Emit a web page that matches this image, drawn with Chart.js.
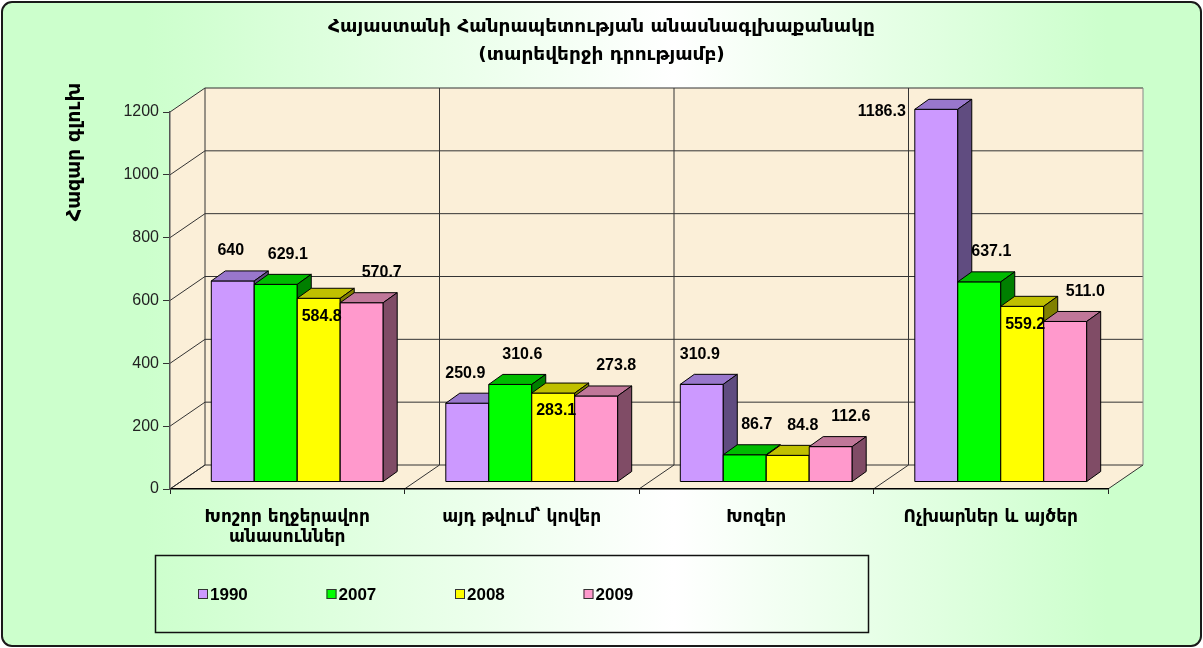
<!DOCTYPE html>
<html>
<head>
<meta charset="utf-8">
<script src="https://cdn.jsdelivr.net/npm/chart.js@4.4.1/dist/chart.umd.min.js"></script>
<style>
html, body { margin: 0; padding: 0; background: #fff; }
#wrap { width: 1203px; height: 648px; position: relative; }
</style>
</head>
<body>
<div id="wrap"><canvas id="herdChart"></canvas></div>
<script>
const titleLines = ['Հայաստանի Հանրապետության անասնագլխաքանակը', '(տարեվերջի դրությամբ)'];
const yTitle = 'Հազար գլուխ';
const categories = [['Խոշոր եղջերավոր', 'անասուններ'], 'այդ թվում՝ կովեր', 'Խոզեր', 'Ոչխարներ և այծեր'];
const years = ['1990', '2007', '2008', '2009'];
// values as they are printed on the bars
const v1990 = ['640', '250.9', '310.9', '1186.3'];
const v2007 = ['629.1', '310.6', '86.7', '637.1'];
const v2008 = ['584.8', '283.1', '84.8', '559.2'];
const v2009 = ['570.7', '273.8', '112.6', '511.0'];
const yTicks = [0, 200, 400, 600, 800, 1000, 1200];

const faces = [
  { front: '#cc99ff', top: '#9977cc', side: '#604c80', labelDx: -2 },
  { front: '#00ff00', top: '#00bb00', side: '#007f00', labelDx: 12 },
  { front: '#ffff00', top: '#c0c000', side: '#808000', labelDx: 15 },
  { front: '#ff99cc', top: '#c07799', side: '#804c66', labelDx: 20 }
];

const ARM = '"DejaVu Sans", "Noto Sans", sans-serif';
const NUM = '"Liberation Sans", Arial, sans-serif';
const WALL = { dx: 35, dy: -24 };      // depth of floor and side wall
const SHIFT = { dx: 10, dy: -7 };      // bars sit in the middle of the floor
const BDEPTH = { dx: 14, dy: -10 };    // depth of one bar

function poly(ctx, pts, fill, stroke) {
  ctx.beginPath();
  ctx.moveTo(pts[0][0], pts[0][1]);
  for (let k = 1; k < pts.length; k++) ctx.lineTo(pts[k][0], pts[k][1]);
  ctx.closePath();
  if (fill) { ctx.fillStyle = fill; ctx.fill(); }
  if (stroke) { ctx.strokeStyle = stroke; ctx.lineWidth = 1; ctx.stroke(); }
}

function line(ctx, x1, y1, x2, y2, color) {
  ctx.beginPath();
  ctx.moveTo(x1, y1);
  ctx.lineTo(x2, y2);
  ctx.strokeStyle = color;
  ctx.lineWidth = 1;
  ctx.stroke();
}

const pagePlugin = {
  id: 'page',
  beforeDraw(chart) {
    const { ctx, width, height } = chart;
    const xs = chart.scales.x, ys = chart.scales.y;
    ctx.save();
    // page background
    const g = ctx.createLinearGradient(0, 0, width, 0);
    g.addColorStop(0, '#ccffcc');
    g.addColorStop(0.12, '#ccffcc');
    g.addColorStop(0.56, '#ffffff');
    g.addColorStop(0.92, '#ccffcc');
    g.addColorStop(1, '#ccffcc');
    ctx.fillStyle = g;
    ctx.beginPath();
    ctx.roundRect(2, 2, width - 4, height - 4, 10);
    ctx.fill();
    ctx.lineWidth = 2;
    ctx.strokeStyle = '#1a1a1a';
    ctx.stroke();

    // title
    ctx.fillStyle = '#000';
    ctx.textAlign = 'center';
    ctx.textBaseline = 'middle';
    ctx.font = 'bold 18.5px ' + ARM;
    ctx.fillText(titleLines[0], width / 2, 27);
    ctx.fillText(titleLines[1], width / 2, 55);

    // y title
    ctx.save();
    ctx.translate(75, 152);
    ctx.rotate(-Math.PI / 2);
    ctx.font = 'bold 19px ' + ARM;
    ctx.fillText(yTitle, 0, 0);
    ctx.restore();

    // walls and floor
    const L = xs.left, R = xs.right;
    const y0 = ys.getPixelForValue(0), yT = ys.getPixelForValue(yTicks[yTicks.length - 1]);
    const wall = '#fbefd8';
    poly(ctx, [[L, y0], [R, y0], [R + WALL.dx, y0 + WALL.dy], [L + WALL.dx, y0 + WALL.dy]], wall);
    poly(ctx, [[L, yT], [L + WALL.dx, yT + WALL.dy], [L + WALL.dx, y0 + WALL.dy], [L, y0]], wall);
    poly(ctx, [[L + WALL.dx, yT + WALL.dy], [R + WALL.dx, yT + WALL.dy], [R + WALL.dx, y0 + WALL.dy], [L + WALL.dx, y0 + WALL.dy]], wall);

    // grid on walls
    yTicks.forEach(v => {
      const py = ys.getPixelForValue(v);
      line(ctx, L, py, L + WALL.dx, py + WALL.dy, '#333');
      line(ctx, L + WALL.dx, py + WALL.dy, R + WALL.dx, py + WALL.dy, '#333');
    });
    const step = (R - L) / categories.length;
    for (let k = 0; k <= categories.length; k++) {
      const bx = L + step * k;
      line(ctx, bx, y0, bx + WALL.dx, y0 + WALL.dy, '#333');
      line(ctx, bx + WALL.dx, y0 + WALL.dy, bx + WALL.dx, yT + WALL.dy, k === categories.length ? '#888' : '#333');
    }
    ctx.restore();
  },
  beforeDatasetsDraw(chart) {
    const { ctx } = chart;
    ctx.save();
    for (let j = 0; j < categories.length; j++) {
      chart.data.datasets.forEach((ds, i) => {
        const el = chart.getDatasetMeta(i).data[j];
        const f = faces[i];
        const left = el.x - el.width / 2 + SHIFT.dx;
        const right = el.x + el.width / 2 + SHIFT.dx;
        const top = el.y + SHIFT.dy;
        const bottom = el.base + SHIFT.dy;
        poly(ctx, [[left, top], [right, top], [right, bottom], [left, bottom]], f.front, '#000');
        poly(ctx, [[left, top], [left + BDEPTH.dx, top + BDEPTH.dy], [right + BDEPTH.dx, top + BDEPTH.dy], [right, top]], f.top, '#000');
        poly(ctx, [[right, top], [right + BDEPTH.dx, top + BDEPTH.dy], [right + BDEPTH.dx, bottom + BDEPTH.dy], [right, bottom]], f.side, '#000');
      });
    }
    ctx.restore();
    return false;
  },
  afterDraw(chart) {
    const { ctx } = chart;
    const wallTop = chart.chartArea.top + WALL.dy;
    ctx.save();
    ctx.fillStyle = '#000';
    ctx.font = 'bold 16px ' + NUM;
    ctx.textBaseline = 'middle';
    chart.data.datasets.forEach((ds, i) => {
      chart.getDatasetMeta(i).data.forEach((el, j) => {
        const txt = ds.printed[j];
        const cx = el.x + SHIFT.dx;
        const top = el.y + SHIFT.dy;
        if (top - 30 < wallTop) {
          ctx.textAlign = 'right';
          ctx.fillText(txt, cx - el.width / 2 - 9, top + 2);
        } else if (ds.inside && el.base - el.y > 60) {
          ctx.textAlign = 'center';
          ctx.fillText(txt, cx + 3, top + 18);
        } else {
          ctx.textAlign = 'center';
          ctx.fillText(txt, cx + faces[i].labelDx, top - 30);
        }
      });
    });

    // legend
    ctx.strokeStyle = '#111';
    ctx.lineWidth = 1.5;
    ctx.strokeRect(155.5, 555.5, 713, 77);
    ctx.textAlign = 'left';
    ctx.font = 'bold 17px "Liberation Sans Narrow", "Arial Narrow", ' + NUM;
    chart.data.datasets.forEach((ds, i) => {
      const lx = 198 + i * 128.5;
      ctx.fillStyle = faces[i].front;
      ctx.fillRect(lx, 589, 10, 10);
      ctx.strokeStyle = '#333';
      ctx.lineWidth = 1;
      ctx.strokeRect(lx + 0.5, 589.5, 9, 9);
      ctx.fillStyle = '#000';
      ctx.fillText(ds.label, lx + 12, 595);
    });
    ctx.restore();
  }
};

const seriesValues = [v1990, v2007, v2008, v2009];

new Chart(document.getElementById('herdChart'), {
  type: 'bar',
  data: {
    labels: categories,
    datasets: years.map((yr, i) => ({
      label: yr,
      data: seriesValues[i].map(Number),
      printed: seriesValues[i],
      inside: yr === '2008',
      backgroundColor: faces[i].front
    }))
  },
  options: {
    responsive: true,
    maintainAspectRatio: false,
    animation: false,
    devicePixelRatio: 1,
    layout: { padding: { top: 112, right: 95, bottom: 99, left: 0 } },
    datasets: { bar: { categoryPercentage: 0.733, barPercentage: 1 } },
    plugins: {
      legend: { display: false },
      title: { display: false },
      tooltip: { enabled: false }
    },
    scales: {
      x: {
        afterFit: s => { s.height = 60; },
        grid: { offset: true, drawOnChartArea: false, tickLength: 5, color: '#222' },
        border: { display: true, color: '#000', width: 1.5 },
        ticks: {
          color: '#000',
          padding: 13,
          font: { family: ARM, size: 17, weight: 'bold', lineHeight: 1.2 },
          maxRotation: 0
        }
      },
      y: {
        min: 0,
        max: 1200,
        afterFit: s => { s.width = 170; },
        afterBuildTicks: s => { s.ticks = yTicks.map(v => ({ value: v })); },
        grid: { drawOnChartArea: false, tickLength: 7, color: '#333' },
        border: { display: true, color: '#555', width: 1.5 },
        ticks: { color: '#222', padding: 4, font: { family: NUM, size: 16 }, callback: v => String(v) }
      }
    }
  },
  plugins: [pagePlugin]
});
</script>
</body>
</html>
